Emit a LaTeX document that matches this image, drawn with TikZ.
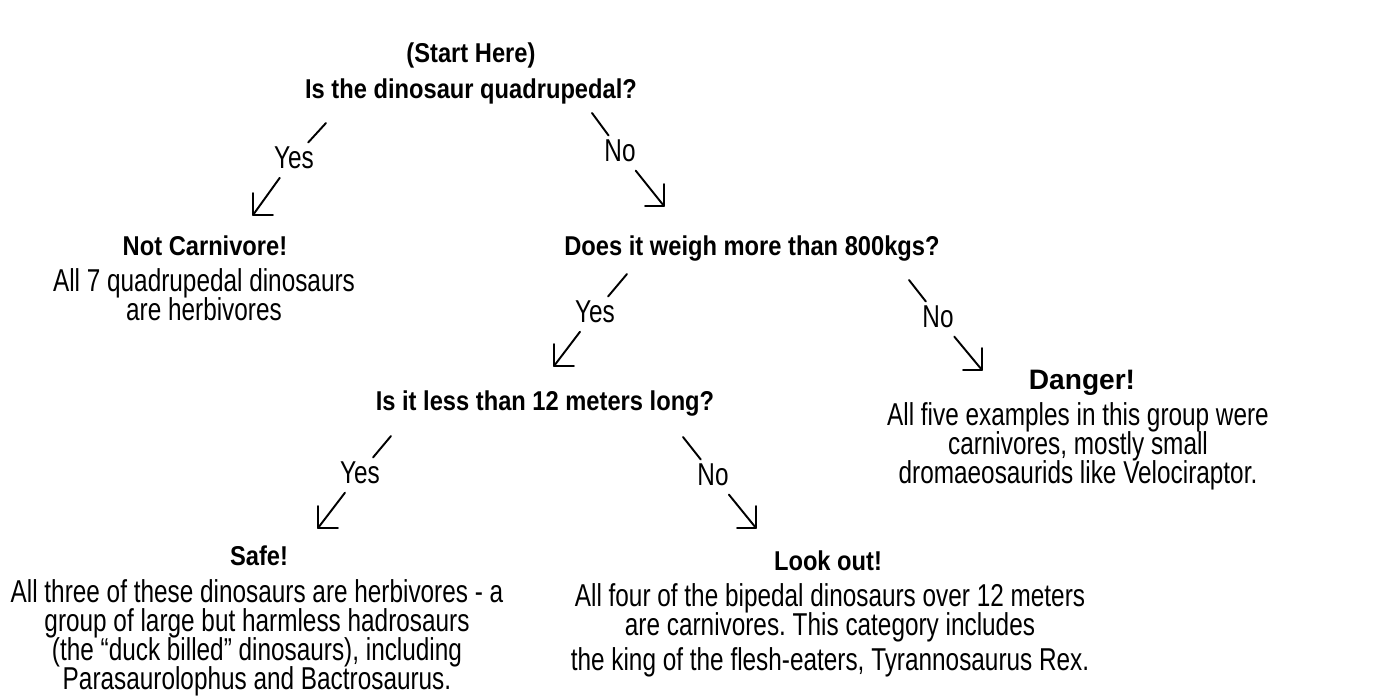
\documentclass[tikz,border=0pt]{standalone}
\usepackage{fontspec}
\setmainfont{Liberation Sans}[FakeStretch=0.77]
\newfontfamily\headfont{Liberation Sans}[FakeStretch=0.87]
\newfontfamily\dangerfont{Liberation Sans}
\newcommand\tightlines{\lineskiplimit=-20pt\relax\lineskip=0pt\relax\frenchspacing}
\tikzset{
  head/.style={font=\headfont\bfseries\fontsize{15.5}{17}\selectfont, inner sep=0pt, anchor=base},
  body/.style={font=\fontsize{18}{16.4}\selectfont\tightlines, align=center, inner sep=0pt, anchor=north},
  lab/.style={font=\fontsize{18}{20}\selectfont, inner sep=2pt},
  dangerhead/.style={font=\dangerfont\bfseries\fontsize{16}{18}\selectfont, inner sep=0pt, anchor=base}
}
\begin{document}
\begin{tikzpicture}[x=0.02cm, y=-0.02cm, line join=round, line cap=round, line width=1.1pt]
  \useasboundingbox (0,0) rectangle (1400,697);
  % questions
  \node[head] (start) at (471,62) {(Start Here)};
  \node[head] (q1) at (471,98) {Is the dinosaur quadrupedal?};
  \node[head] (q2) at (752,255) {Does it weigh more than 800kgs?};
  \node[head] (q3) at (545,410) {Is it less than 12 meters long?};
  % answers
  \node[head] (herb) at (205,255) {Not Carnivore!};
  \node[body] (herbtxt) at (204,268) {All 7 quadrupedal dinosaurs\\are herbivores};
  \node[dangerhead] (danger) at (1082,389) {Danger!};
  \node[body] (dangertxt) at (1078,402) {All five examples in this group were\\carnivores, mostly small\\dromaeosaurids like Velociraptor.};
  \node[head] (safe) at (259,565) {Safe!};
  \node[body] (safetxt) at (257,579) {All three of these dinosaurs are herbivores - a\\group of large but harmless hadrosaurs\\(the “duck billed” dinosaurs), including\\Parasaurolophus and Bactrosaurus.};
  \node[head] (lookout) at (828,570) {Look out!};
  \node[body] (lookouttxt) at (830,583) {All four of the bipedal dinosaurs over 12 meters\\are carnivores. This category includes\\[3.4pt]the king of the flesh-eaters, Tyrannosaurus Rex.};
  % yes / no labels
  \node[lab] (yes1) at (294,158) {Yes};
  \node[lab] (no1) at (620,151) {No};
  \node[lab] (yes2) at (595,312) {Yes};
  \node[lab] (no2) at (938,317) {No};
  \node[lab] (yes3) at (360,473) {Yes};
  \node[lab] (no3) at (713,475) {No};
  \coordinate (yes1-s) at (326,123); \coordinate (yes1-t) at (253,215);
  \coordinate (no1-s) at (592,113);  \coordinate (no1-t) at (664,206);
  \coordinate (yes2-s) at (627,274); \coordinate (yes2-t) at (554,366);
  \coordinate (no2-s) at (909,280);  \coordinate (no2-t) at (982,370);
  \coordinate (yes3-s) at (391,436); \coordinate (yes3-t) at (318,528);
  \coordinate (no3-s) at (683,437);  \coordinate (no3-t) at (756,528);
  % arrows
  \foreach \a in {yes1,yes2,yes3}{
    \draw (\a-s) -- (\a);
    \draw[shorten <=3pt] (\a) -- (\a-t);
    \draw (\a-t) -- +(0,-22) (\a-t) -- +(20,0);
  }
  \foreach \a in {no1,no2,no3}{
    \draw (\a-s) -- (\a);
    \draw[shorten <=3pt] (\a) -- (\a-t);
    \draw (\a-t) -- +(0,-22) (\a-t) -- +(-19,0);
  }
\end{tikzpicture}
\end{document}
